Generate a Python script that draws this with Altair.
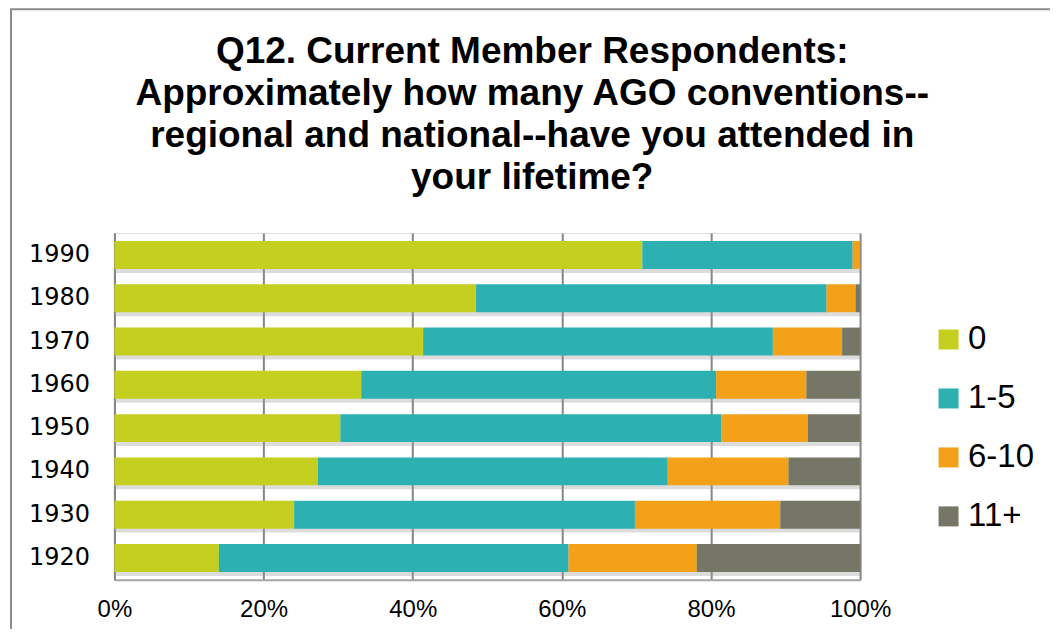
import altair as alt
import pandas as pd

years = ["1990", "1980", "1970", "1960", "1950", "1940", "1930", "1920"]
categories = ["0", "1-5", "6-10", "11+"]
colors = ["#C5CF20", "#2CB0B2", "#F3A118", "#757665"]

pct_0 = [70.8, 48.5, 41.4, 33.1, 30.3, 27.3, 24.1, 14.0]
pct_1_5 = [28.2, 47.0, 46.9, 47.6, 51.1, 46.9, 45.7, 46.9]
pct_6_10 = [1.0, 3.9, 9.3, 12.1, 11.6, 16.2, 19.5, 17.2]
pct_11 = [0.0, 0.6, 2.4, 7.2, 7.0, 9.6, 10.7, 21.9]

series = [pct_0, pct_1_5, pct_6_10, pct_11]
rows = []
for ci, (cat, vals) in enumerate(zip(categories, series)):
    for y, v in zip(years, vals):
        rows.append({"year": y, "cat": cat, "order": ci, "value": v / 100.0})
df = pd.DataFrame(rows)

FONT = "Liberation Sans"

title = alt.TitleParams(
    text=["Q12. Current Member Respondents:",
          "Approximately how many AGO conventions--",
          "regional and national--have you attended in",
          "your lifetime?"],
    fontSize=37, font=FONT, fontWeight="bold", color="#000000",
    lineHeight=42, anchor="middle", frame="group", dx=45, offset=-189,
)

y_enc = alt.Y("year:N", sort=years,
              scale=alt.Scale(paddingInner=0.355, paddingOuter=0.184),
              axis=alt.Axis(title=None, tickSize=0, labelPadding=25,
                            labelFont="DejaVu Sans", labelFontSize=24,
                            labelColor="#000000", domainColor="#868686",
                            domainWidth=2))

shadow = alt.Chart(df).mark_bar(color="#9A9A9A", opacity=0.35, yOffset=4).encode(
    y=y_enc,
    x=alt.X("sum(value):Q", scale=alt.Scale(domain=[0, 1], nice=False)),
)

bars = alt.Chart(df).mark_bar().encode(
    y=y_enc,
    x=alt.X("sum(value):Q", stack="zero",
            scale=alt.Scale(domain=[0, 1], nice=False),
            axis=alt.Axis(title=None, format=".0%", values=[0, 0.2, 0.4, 0.6, 0.8, 1.0],
                          tickSize=0, labelPadding=18, labelFlush=False,
                          labelFont=FONT, labelFontSize=24, labelColor="#000000",
                          grid=True, gridColor="#868686", gridWidth=2,
                          domainColor="#A6A6A6", domainWidth=2)),
    color=alt.Color("cat:N", sort=categories,
                    scale=alt.Scale(domain=categories, range=colors),
                    legend=alt.Legend(title=None, orient="none", legendX=818, legendY=90,
                                      symbolType="square", symbolSize=400,
                                      symbolStrokeWidth=0, labelFont=FONT,
                                      labelFontSize=33, labelColor="#000000",
                                      labelOffset=3, rowPadding=25, padding=0)),
    order=alt.Order("order:Q", sort="ascending"),
)

frame_df = pd.DataFrame({"k": [0]})
left_border = alt.Chart(frame_df).mark_rule(color="#8C8C8C", strokeWidth=2).encode(
    x=alt.value(-103.5), y=alt.value(-224), y2=alt.value(420))
top_border = alt.Chart(frame_df).mark_rule(color="#8C8C8C", strokeWidth=2).encode(
    x=alt.value(-104.5), x2=alt.value(960), y=alt.value(-224))

chart = alt.layer(shadow, bars, left_border, top_border).properties(
    width=746, height=347, title=title,
    autosize=alt.AutoSizeParams(type="none"),
    padding={"left": 106.5, "top": 225, "right": 190, "bottom": 49},
).configure_view(stroke=None).configure(background="#FFFFFF")

chart.save("out.html", embed_options={"renderer": "svg", "actions": False})
